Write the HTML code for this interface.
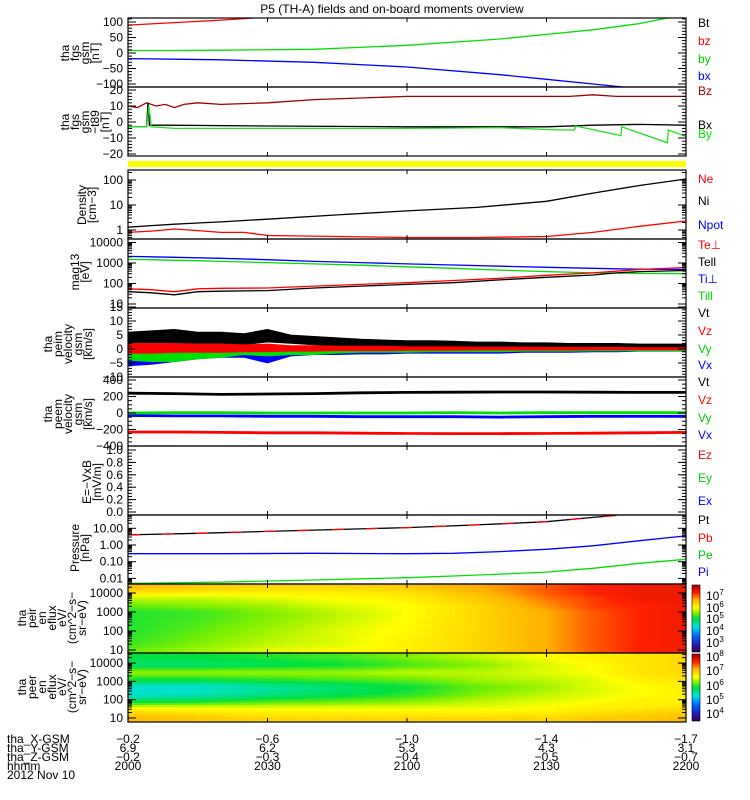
<!DOCTYPE html>
<html><head><meta charset="utf-8"><style>
body{margin:0;background:#fff}
svg{display:block;font-family:"Liberation Sans",sans-serif}
text{font-size:12px}
</style></head><body>
<svg id="c" width="750" height="800" viewBox="0 0 750 800" xmlns="http://www.w3.org/2000/svg">
<rect width="750" height="800" fill="#fff"/>
<text x="392" y="13" text-anchor="middle" font-size="13">P5 (TH-A) fields and on-board moments overview</text>
<rect x="128" y="161" width="558" height="6" fill="#ffff00"/>
<defs>
<linearGradient id="cb" x1="0" y1="1" x2="0" y2="0">
<stop offset="0" stop-color="#3c0050"/><stop offset="0.12" stop-color="#2020c0"/><stop offset="0.25" stop-color="#0070ff"/><stop offset="0.37" stop-color="#00e0e0"/><stop offset="0.5" stop-color="#00e040"/><stop offset="0.58" stop-color="#80f000"/><stop offset="0.66" stop-color="#ffff00"/><stop offset="0.78" stop-color="#ffb000"/><stop offset="0.88" stop-color="#ff2000"/><stop offset="1" stop-color="#a00000"/>
</linearGradient>
<clipPath id="cs1"><rect x="128" y="584" width="558" height="69"/></clipPath>
<clipPath id="cs2"><rect x="128" y="653" width="558" height="69"/></clipPath>
</defs>
<g id="specs"></g>
<g id="data"></g>
<g id="axes"></g>
<rect x="692" y="585" width="8" height="67" fill="url(#cb)" stroke="#000" stroke-width="0.6"/>
<rect x="692" y="654" width="8" height="67" fill="url(#cb)" stroke="#000" stroke-width="0.6"/>
<g font-size="11">
<text x="706" y="600">10<tspan dy="-5" font-size="8">7</tspan></text>
<text x="706" y="612">10<tspan dy="-5" font-size="8">6</tspan></text>
<text x="706" y="623">10<tspan dy="-5" font-size="8">5</tspan></text>
<text x="706" y="635">10<tspan dy="-5" font-size="8">4</tspan></text>
<text x="706" y="647">10<tspan dy="-5" font-size="8">3</tspan></text>
</g>
<g font-size="11">
<text x="706" y="661">10<tspan dy="-5" font-size="8">8</tspan></text>
<text x="706" y="675">10<tspan dy="-5" font-size="8">7</tspan></text>
<text x="706" y="690">10<tspan dy="-5" font-size="8">6</tspan></text>
<text x="706" y="704">10<tspan dy="-5" font-size="8">5</tspan></text>
<text x="706" y="718">10<tspan dy="-5" font-size="8">4</tspan></text>
</g>
<g>
<text x="698" y="27" fill="#000">Bt</text><text x="698" y="45" fill="#f00">bz</text><text x="698" y="63" fill="#0c0">by</text><text x="698" y="80" fill="#00f">bx</text>
<text x="698" y="95" fill="#a00000">Bz</text><text x="698" y="129" fill="#000">Bx</text><text x="698" y="138" fill="#0e0">By</text>
<text x="698" y="183" fill="#f00">Ne</text><text x="698" y="205" fill="#000">Ni</text><text x="698" y="229" fill="#00f">Npot</text>
<text x="698" y="249" fill="#f00">Te⊥</text><text x="698" y="266" fill="#000">Tell</text><text x="698" y="283" fill="#00f">Ti⊥</text><text x="698" y="300" fill="#0c0">Till</text>
<text x="698" y="317" fill="#000">Vt</text><text x="698" y="335" fill="#f00">Vz</text><text x="698" y="353" fill="#0c0">Vy</text><text x="698" y="369" fill="#00f">Vx</text>
<text x="698" y="386" fill="#000">Vt</text><text x="698" y="404" fill="#f00">Vz</text><text x="698" y="422" fill="#0c0">Vy</text><text x="698" y="439" fill="#00f">Vx</text>
<text x="698" y="459" fill="#f00">Ez</text><text x="698" y="482" fill="#0c0">Ey</text><text x="698" y="505" fill="#00f">Ex</text>
<text x="698" y="524" fill="#000">Pt</text><text x="698" y="542" fill="#f00">Pb</text><text x="698" y="559" fill="#0c0">Pe</text><text x="698" y="576" fill="#00f">Pi</text>
</g>
<g font-size="12">
<text x="7" y="743">tha_X-GSM</text><text x="7" y="752">tha_Y-GSM</text><text x="7" y="761">tha_Z-GSM</text><text x="7" y="770">hhmm</text><text x="7" y="779">2012 Nov 10</text>
</g>
<g id="bottomvals" font-size="12" text-anchor="middle"></g>
</svg>
<script>
// ---------- data ----------
const xTimes=[0,30,60,90,120];
const xLabelX=["-0.2","-0.6","-1.0","-1.4","-1.7"];
const xLabelY=["6.9","6.2","5.3","4.3","3.1"];
const xLabelZ=["-0.2","-0.3","-0.4","-0.5","-0.7"];
const xLabelH=["2000","2030","2100","2130","2200"];

const fgsT=[0,10,20,40,60,80,90,100,110,115,120];
const fgsBy=[8,8,9,12,25,45,60,75,95,110,125];
const fgsBx=[-18,-20,-22,-30,-45,-70,-85,-100,-115,-125,-135];
const fgsBzT=[0,5,10,20,30];
const fgsBz=[90,94,98,106,116];

const t89ZT=[0,2,4,6,8,10,12,15,20,30,40,50,60,80,95,100,105,110,120];
const t89Z=[10,9,12,10,11,9,11,12,11,12,14,15,16,16,16,17,16,16,16];
const t89XT=[0,4,4.3,4.6,8,30,60,90,100,110,120];
const t89X=[-3,-3,12,-2,-2,-2.5,-3,-3,-2,-1.5,-2];
const t89YT=[0,4,4.5,5,10,30,60,80,93,96,96.3,106,106.2,116,116.2,120];
const t89Y=[-3,-3,10,-3,-4,-4,-4,-3.5,-5,-5,-2.5,-8.5,-3,-13,-5,-9];

const denT=[0,5,10,15,20,25,30,45,60,75,90,100,110,120];
const denNi=[1.3,1.5,1.7,1.9,2.1,2.4,2.7,4,5.8,8,14,30,60,110];
const denNe=[0.8,0.9,1.1,0.95,0.8,0.8,0.6,0.55,0.5,0.5,0.55,0.8,1.4,2.3];

const tmpT=[0,5,10,15,20,30,40,50,60,70,80,90,100,105,110,120];
const tiPerp=[2100,2000,1900,1800,1700,1450,1200,1050,900,800,700,620,550,520,500,480];
const tiPar=[1500,1450,1350,1300,1200,1050,900,780,650,550,450,380,330,320,310,300];
const tePerp=[55,50,40,55,58,60,75,90,110,140,180,250,330,400,480,600];
const tePar=[40,35,28,40,42,45,60,75,90,110,150,200,260,330,380,430];

const vT=[0,5,10,15,20,25,30,35,40,45,50,55,60,65,70,75,80,85,90,95,100,105,110,115,120];
const viTHi=[6,6.5,7,6,6,5.5,7,5,4.5,4,3.5,3.2,3,3,2.8,2.5,2.5,2.2,2.2,2,2,2,1.8,1.8,1.8];
const viTLo=[1.5,2,2,2,2,1.5,2.5,2,1.5,1.2,1,1,0.8,0.8,0.6,0.5,0.5,0.5,0.4,0.4,0.4,0.4,0.3,0.3,0.3];
const viZHi=[2,2,2,1.8,1.8,1.5,1.8,1.2,1.2,1,1,1,0.8,0.8,0.8,0.7,0.7,0.7,0.6,0.6,0.6,0.6,0.5,0.5,0.5];
const viZLo=[-1.5,-1.5,-1.2,-1.2,-1.2,-1,-1,-0.8,-0.8,-0.6,-0.6,-0.6,-0.5,-0.5,-0.5,-0.4,-0.4,-0.4,-0.4,-0.4,-0.3,-0.3,-0.3,-0.3,-0.3];
const viYHi=[0.5,0.5,0.5,0.5,0.5,0.3,0.3,0.3,0.3,0.2,0.2,0.2,0.2,0.2,0.2,0.2,0.2,0.2,0.2,0.2,0.2,0.2,0.2,0.2,0.2];
const viYLo=[-4,-4.5,-4.5,-3.5,-3,-2,-2.5,-2,-2,-1.5,-1.2,-1.2,-1.2,-1,-1,-1,-1,-0.8,-0.8,-0.8,-0.7,-0.7,-0.7,-0.7,-0.7];
const viXHi=[-0.5,-0.5,-0.5,-0.5,-0.5,-0.5,-0.5,-0.4,-0.4,-0.4,-0.3,-0.3,-0.3,-0.3,-0.3,-0.3,-0.3,-0.3,-0.3,-0.3,-0.3,-0.3,-0.3,-0.3,-0.3];
const viXLo=[-6,-5.5,-4.5,-3.5,-3,-3,-5,-2.5,-2,-2,-1.8,-1.8,-1.5,-1.5,-1.5,-1.5,-1.5,-1.2,-1.2,-1.2,-1,-1,-0.8,-0.8,-0.8];

const veT=[0,10,20,30,40,50,60,70,80,90,100,110,120];
const veTot=[240,235,225,230,235,245,250,252,255,255,252,250,250];
const veZ=[-230,-230,-235,-240,-240,-245,-248,-250,-250,-248,-245,-240,-235];
const veY=[0,5,5,0,0,0,0,5,0,5,5,5,5];
const veX=[-30,-35,-35,-40,-40,-45,-45,-45,-50,-45,-40,-40,-40];
const veHalf=12;

const prT=[0,15,30,45,60,75,90,100,105];
const prPt=[4,5,6.5,8.5,11,16,25,45,60];
const prIT=[0,20,40,60,70,80,90,100,110,120];
const prPi=[0.3,0.3,0.32,0.3,0.32,0.4,0.55,0.9,1.8,3.5];
const prPe=[0.005,0.006,0.008,0.011,0.014,0.018,0.024,0.04,0.08,0.14];

const specT=[0,15,30,45,60,75,90,100,110,120];
const ionE=[20000,10000,5000,2000,1000,500,100,20,10];
const ionFlux=[
[6.4,6.3,6.2,6.2,6.3,6.5,6.8,7.0,7.1,7.1],
[6.1,6.0,6.0,6.0,6.1,6.4,6.8,7.0,7.1,7.1],
[5.7,5.7,5.8,5.9,6.0,6.3,6.7,6.9,7.1,7.1],
[5.4,5.5,5.6,5.8,5.9,6.2,6.6,6.9,7.0,7.1],
[5.2,5.3,5.5,5.7,5.9,6.2,6.5,6.8,7.0,7.1],
[5.2,5.3,5.5,5.7,5.9,6.2,6.5,6.8,7.0,7.1],
[5.2,5.4,5.6,5.8,5.95,6.2,6.5,6.8,7.0,7.1],
[5.3,5.5,5.7,5.8,6.0,6.2,6.5,6.8,7.0,7.1],
[5.4,5.6,5.8,5.9,6.0,6.2,6.5,6.8,7.0,7.1]];
const eleE=[20000,8000,3000,1200,500,200,80,40,20,10];
const eleFlux=[
[6.1,6.1,6.2,6.3,6.5,6.7,6.9,7.0,7.1,7.2],
[5.9,5.9,6.0,6.1,6.3,6.5,6.8,6.9,7.1,7.2],
[6.6,6.6,6.6,6.6,6.7,6.7,6.8,6.9,7.1,7.2],
[6.1,6.1,6.2,6.3,6.4,6.6,6.7,6.8,7.0,7.1],
[5.5,5.5,5.7,5.9,6.1,6.4,6.6,6.8,6.9,7.0],
[5.5,5.6,5.8,6.0,6.2,6.5,6.7,6.8,6.9,7.0],
[6.0,6.1,6.3,6.4,6.5,6.7,6.8,6.9,7.0,7.0],
[6.8,6.8,6.8,6.8,6.8,6.8,6.9,7.0,7.0,7.1],
[7.2,7.1,7.0,7.0,7.0,7.0,7.0,7.1,7.2,7.3],
[7.4,7.3,7.2,7.2,7.2,7.2,7.2,7.3,7.3,7.4]];

// ---------- helpers ----------
const NS="http://www.w3.org/2000/svg";
const X0=128,X1=686;
const xs=t=>X0+t/120*(X1-X0);
function mk(tag,attrs,parent){const e=document.createElementNS(NS,tag);for(const k in attrs)e.setAttribute(k,attrs[k]);parent.appendChild(e);return e;}
const dataG=document.getElementById('data'),axG=document.getElementById('axes'),spG=document.getElementById('specs');
function clipFor(id,top,bot){const d=document.querySelector('defs');const cp=mk('clipPath',{id:id},d);mk('rect',{x:X0,y:top,width:X1-X0,height:bot-top},cp);return 'url(#'+id+')';}
function pline(g,T,V,ys,color,name){
  const p=mk('polyline',{points:T.map((t,i)=>xs(t).toFixed(1)+','+ys(V[i]).toFixed(1)).join(' '),fill:'none',stroke:color,'stroke-width':1.3},g);
  
  
  return p;
}
function band(g,T,H,L,ys,color,name){
  const pts=T.map((t,i)=>xs(t).toFixed(1)+','+ys(H[i]).toFixed(1)).concat(T.slice().reverse().map((t,j)=>{const i=T.length-1-j;return xs(t).toFixed(1)+','+ys(L[i]).toFixed(1);}));
  const p=mk('polygon',{points:pts.join(' '),fill:color,stroke:color,'stroke-width':0.8},g);
  
  
}
function frame(top,bot,name){
  const r=mk('rect',{x:X0,y:top,width:X1-X0,height:bot-top,fill:'none',stroke:'#000','stroke-width':1.2},axG);
  
  
  for(const t of xTimes.slice(1,4)){
    mk('line',{x1:xs(t),x2:xs(t),y1:top,y2:top+4,stroke:'#000'},axG);
    mk('line',{x1:xs(t),x2:xs(t),y1:bot,y2:bot-4,stroke:'#000'},axG);
  }
}
function tick(y,len){
  mk('line',{x1:X0,x2:X0+len,y1:y,y2:y,stroke:'#000'},axG);
  mk('line',{x1:X1,x2:X1-len,y1:y,y2:y,stroke:'#000'},axG);
}
function tlabel(y,txt,name){
  const t=mk('text',{x:123,y:y+4,'text-anchor':'end'},axG);t.textContent=txt;
  
  
}
function linAxis(top,bot,ys,vals,minorStep,lo,hi,name,fmt){
  for(let v=lo;v<=hi+1e-9;v+=minorStep){const y=ys(v);if(y>=top&&y<=bot)tick(y,4);}
  vals.forEach(v=>{const y=ys(v);tick(y,8);tlabel(y,(fmt?fmt(v):String(v)).replace('-','−'),name);});
}
function logAxis(top,bot,ys,dec0,dec1,labels,name){
  for(let d=dec0;d<=dec1;d++){for(let m=1;m<10;m++){const y=ys(m*Math.pow(10,d));if(y>=top&&y<=bot)tick(y,m===1?8:4);}}
  labels.forEach(([v,s])=>tlabel(ys(v),s,name));
}
function ylabel(lines,cx,cy,name){
  const g=mk('g',{transform:'translate('+cx+','+cy+') rotate(-90)'},axG);
  
  
  const n=lines.length;
  lines.forEach((s,i)=>{const t=mk('text',{x:0,y:(i-(n-1)/2)*10+4,'text-anchor':'middle','font-size':12},g);t.textContent=s;});
}

// Panel 1
{const top=18,bot=87,ys=v=>53-v*0.31;const g=mk('g',{'clip-path':clipFor('c1',top,bot)},dataG);
 pline(g,fgsT,fgsBy,ys,'#00e000','fgs-by-line');pline(g,fgsT,fgsBx,ys,'#0000ff','fgs-bx-line');pline(g,fgsBzT,fgsBz,ys,'#ff0000','fgs-bz-line');
 frame(top,bot,'fgs-gsm-panel');linAxis(top,bot,ys,[100,50,0,-50,-100],10,-110,110,'fgs-y-tick');ylabel(['tha','fgs','gsm','[nT]'],80,53,'fgs-y-title');}
// Panel 2
{const top=87,bot=156,ys=v=>122-v*1.6;const g=mk('g',{'clip-path':clipFor('c2',top,bot)},dataG);
 pline(g,t89ZT,t89Z,ys,'#a00000','t89-bz-line');pline(g,t89XT,t89X,ys,'#000','t89-bx-line');pline(g,t89YT,t89Y,ys,'#20e020','t89-by-line');
 frame(top,bot,'fgs-t89-panel');linAxis(top,bot,ys,[20,10,0,-10,-20],2,-26,20,'t89-y-tick');ylabel(['tha','fgs','gsm','−t89','[nT]'],85,122,'t89-y-title');}
// Panel 3
{const top=170,bot=239,ys=v=>230-25*Math.log10(v);const g=mk('g',{'clip-path':clipFor('c3',top,bot)},dataG);
 pline(g,denT,denNi,ys,'#000','density-ni-line');pline(g,denT,denNe,ys,'#ff0000','density-ne-line');
 frame(top,bot,'density-panel');logAxis(top,bot,ys,-1,2,[[100,'100'],[10,'10'],[1,'1']],'density-y-tick');ylabel(['Density','[cm−3]'],87,205,'density-y-title');}
// Panel 4
{const top=239,bot=308,ys=v=>304-20.5*(Math.log10(v)-1);const g=mk('g',{'clip-path':clipFor('c4',top,bot)},dataG);
 pline(g,tmpT,tiPerp,ys,'#0000ff','ti-perp-line');pline(g,tmpT,tiPar,ys,'#00e000','ti-par-line');pline(g,tmpT,tePerp,ys,'#ff0000','te-perp-line');pline(g,tmpT,tePar,ys,'#000','te-par-line');
 frame(top,bot,'temperature-panel');logAxis(top,bot,ys,1,4,[[10000,'10000'],[1000,'1000'],[100,'100'],[10,'10']],'temp-y-tick');ylabel(['mag13','[eV]'],80,272,'temp-y-title');}
// Panel 5
{const top=308,bot=377,ys=v=>349-2.8*v;const g=mk('g',{'clip-path':clipFor('c5',top,bot)},dataG);
 band(g,vT,viTHi,viTLo,ys,'#000','peim-vt-band');band(g,vT,viXHi,viXLo,ys,'#0000ff','peim-vx-band');band(g,vT,viYHi,viYLo,ys,'#00e000','peim-vy-band');band(g,vT,viZHi,viZLo,ys,'#ff0000','peim-vz-band');
 frame(top,bot,'peim-velocity-panel');linAxis(top,bot,ys,[15,10,5,0,-5,-10],1,-10,15,'peim-y-tick');ylabel(['tha','peim','velocity','gsm','[km/s]'],68,344,'peim-y-title');}
// Panel 6
{const top=377,bot=446,ys=v=>413-0.0825*v;const g=mk('g',{'clip-path':clipFor('c6',top,bot)},dataG);
 const hi=a=>a.map(v=>v+veHalf),lo=a=>a.map(v=>v-veHalf);
 band(g,veT,hi(veTot),lo(veTot),ys,'#000','peem-vt-band');band(g,veT,hi(veX),lo(veX),ys,'#0000ff','peem-vx-band');band(g,veT,hi(veY),lo(veY),ys,'#00e000','peem-vy-band');band(g,veT,hi(veZ),lo(veZ),ys,'#ff0000','peem-vz-band');
 frame(top,bot,'peem-velocity-panel');linAxis(top,bot,ys,[400,200,0,-200,-400],50,-400,400,'peem-y-tick');ylabel(['tha','peem','velocity','gsm','[km/s]'],68,414,'peem-y-title');}
// Panel 7
{const top=446,bot=515,ys=v=>512-62*v;
 frame(top,bot,'efield-panel');linAxis(top,bot,ys,[1,0.8,0.6,0.4,0.2,0],0.05,0,1,'efield-y-tick',v=>v.toFixed(1));
 ylabel(['E=−VxB','[mV/m]'],92,482,'efield-y-title');}
// Panel 8
{const top=515,bot=584,ys=v=>545-16.7*Math.log10(v);const g=mk('g',{'clip-path':clipFor('c8',top,bot)},dataG);
 pline(g,prT,prPt,ys,'#000','pressure-pt-line');const pb=pline(g,prT,prPt,ys,'#ff0000','pressure-pb-line');pb.setAttribute('stroke-dasharray','12 22');
 pline(g,prIT,prPi,ys,'#0000ff','pressure-pi-line');pline(g,prIT,prPe,ys,'#00e000','pressure-pe-line');
 frame(top,bot,'pressure-panel');logAxis(top,bot,ys,-3,1,[[10,'10.00'],[1,'1.00'],[0.1,'0.10'],[0.01,'0.01']],'pressure-y-tick');ylabel(['Pressure','[nPa]'],80,548,'pressure-y-title');}

// Spectrograms
const cstops=[[0,[60,0,80]],[0.12,[32,32,192]],[0.25,[0,112,255]],[0.37,[0,224,224]],[0.5,[0,224,64]],[0.58,[128,240,0]],[0.66,[255,255,0]],[0.78,[255,176,0]],[0.88,[255,32,0]],[1,[160,0,0]]];
function cmap(n){n=Math.max(0,Math.min(1,n));for(let i=1;i<cstops.length;i++){if(n<=cstops[i][0]){const a=cstops[i-1],b=cstops[i],f=(n-a[0])/(b[0]-a[0]);return 'rgb('+a[1].map((c,k)=>Math.round(c+(b[1][k]-c)*f)).join(',')+')';}}return 'rgb(160,0,0)';}
function interp1(xa,x){if(x<=xa[0])return[0,0,0];for(let i=1;i<xa.length;i++){if(x<=xa[i])return[i-1,i,(x-xa[i-1])/(xa[i]-xa[i-1])];}const n=xa.length-1;return[n,n,0];}
function spec(top,bot,E,F,yOfLogE,vmin,vmax,clip,name){
  const g=mk('g',{'clip-path':clip},spG);
  
  
  const le=E.map(e=>-Math.log10(e));
  for(let x=X0;x<X1;x+=3){
    const t=(x+1.5-X0)/(X1-X0)*120;const [c0,c1,fc]=interp1(specT,t);
    for(let y=top;y<bot;y+=2){
      const lg=yOfLogE(y+1);const [r0,r1,fr]=interp1(le,-lg);
      const v0=F[r0][c0]*(1-fc)+F[r0][c1]*fc,v1=F[r1][c0]*(1-fc)+F[r1][c1]*fc;
      const v=v0*(1-fr)+v1*fr;
      mk('rect',{x:x,y:y,width:3.4,height:2.4,fill:cmap((v-vmin)/(vmax-vmin))},g);
    }
  }
}
spec(584,653,ionE,ionFlux,y=>1+(650-y)/19,2.6,7.6,'url(#cs1)','ion-spectrogram');
spec(653,722,eleE,eleFlux,y=>1+(718-y)/18.3,3.6,8.6,'url(#cs2)','electron-spectrogram');
{const ys=v=>650-19*(Math.log10(v)-1);frame(584,653,'ion-spectrogram-frame');logAxis(584,653,ys,1,4,[[10000,'10000'],[1000,'1000'],[100,'100'],[10,'10']],'ion-y-tick');ylabel(['tha','peir','en','eflux','eV/','(cm^2−s−','sr−eV)'],52,618,'ion-y-title');}
{const ys=v=>718-18.3*(Math.log10(v)-1);frame(653,722,'electron-spectrogram-frame');logAxis(653,722,ys,1,4,[[10000,'10000'],[1000,'1000'],[100,'100'],[10,'10']],'electron-y-tick');ylabel(['tha','peer','en','eflux','eV/','(cm^2−s−','sr−eV)'],52,687,'electron-y-title');}

// bottom values
const bv=document.getElementById('bottomvals');
xTimes.forEach((t,i)=>{
  [[xLabelX,743],[xLabelY,752],[xLabelZ,761],[xLabelH,770]].forEach(([arr,y])=>{
    const e=mk('text',{x:xs(t),y:y},bv);e.textContent=arr[i].replace('-','−');
    
    
  });
});
</script>
</body></html>
